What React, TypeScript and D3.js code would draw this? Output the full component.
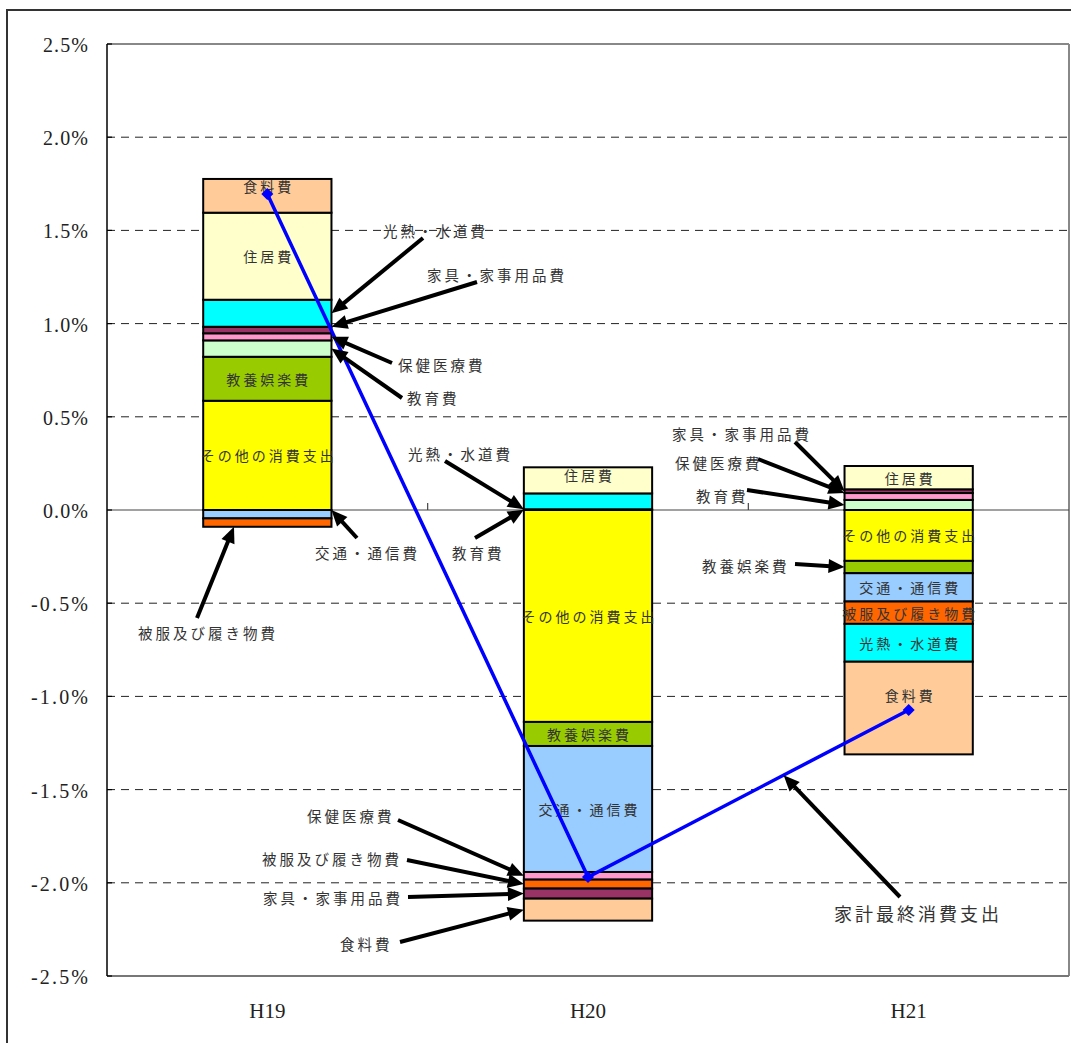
import React from 'react';
import * as d3 from 'd3';

// Contribution to household final consumption growth (percentage points) by item
const categories = ['H19', 'H20', 'H21'];
const seriesNames = [
  'その他の消費支出',
  '教養娯楽費',
  '教育費',
  '交通・通信費',
  '保健医療費',
  '被服及び履き物費',
  '家具・家事用品費',
  '光熱・水道費',
  '住居費',
  '食料費',
];
const otherSpending = [0.586, -1.137, -0.273];
const recreation = [0.236, -0.129, -0.066];
const education = [0.088, 0.004, 0.054];
const transport = [-0.045, -0.676, -0.152];
const medical = [0.038, -0.041, 0.037];
const clothing = [-0.045, -0.048, -0.12];
const furniture = [0.035, -0.054, 0.02];
const utilities = [0.145, 0.085, -0.203];
const housing = [0.467, 0.14, 0.125];
const food = [0.181, -0.118, -0.497];
const householdTotal = [1.695, -1.969, -1.073];
const totalLabel = '家計最終消費支出';
const yTicks = [2.5, 2.0, 1.5, 1.0, 0.5, 0.0, -0.5, -1.0, -1.5, -2.0, -2.5];

const seriesValues = [
  otherSpending, recreation, education, transport, medical,
  clothing, furniture, utilities, housing, food,
];
const seriesColors = [
  '#ffff00', '#99cc00', '#ccffcc', '#99ccff', '#ff99cc',
  '#ff6600', '#993366', '#00ffff', '#ffffcc', '#ffcc99',
];

// Segments that carry their name inside the bar (dy nudges the text)
const barLabels = [
  { cat: 'H19', key: '食料費', dy: -10 },
  { cat: 'H19', key: '住居費', dy: 0 },
  { cat: 'H19', key: '教養娯楽費', dy: 0 },
  { cat: 'H19', key: 'その他の消費支出', dy: 0 },
  { cat: 'H20', key: '住居費', dy: -5 },
  { cat: 'H20', key: 'その他の消費支出', dy: 0 },
  { cat: 'H20', key: '教養娯楽費', dy: 0 },
  { cat: 'H20', key: '交通・通信費', dy: 0 },
  { cat: 'H21', key: '住居費', dy: 0 },
  { cat: 'H21', key: 'その他の消費支出', dy: 0 },
  { cat: 'H21', key: '交通・通信費', dy: 0 },
  { cat: 'H21', key: '被服及び履き物費', dy: 0 },
  { cat: 'H21', key: '光熱・水道費', dy: 0 },
  { cat: 'H21', key: '食料費', dy: -13 },
];

// Callouts pointing at thin segments: tail point and text position
type Callout = {
  cat: string; key: string; edge: 'left' | 'right' | 'bottom'; at: 'top' | 'mid' | 'bottom';
  tail: [number, number]; tx: number; ty: number; bx?: number;
};
const callouts: Callout[] = [
  { cat: 'H19', key: '光熱・水道費', edge: 'right', at: 'mid', tail: [423, 238], tx: 383, ty: 230 },
  { cat: 'H19', key: '家具・家事用品費', edge: 'right', at: 'top', tail: [477, 282], tx: 427, ty: 274 },
  { cat: 'H19', key: '保健医療費', edge: 'right', at: 'mid', tail: [392, 363], tx: 398, ty: 364 },
  { cat: 'H19', key: '教育費', edge: 'right', at: 'mid', tail: [402, 398], tx: 407, ty: 397 },
  { cat: 'H19', key: '交通・通信費', edge: 'right', at: 'top', tail: [357, 538], tx: 315, ty: 552 },
  { cat: 'H19', key: '被服及び履き物費', edge: 'bottom', at: 'bottom', tail: [197, 618], tx: 138, ty: 632, bx: 0.24 },
  { cat: 'H20', key: '光熱・水道費', edge: 'left', at: 'bottom', tail: [445, 461], tx: 408, ty: 453 },
  { cat: 'H20', key: '教育費', edge: 'left', at: 'mid', tail: [475, 538], tx: 452, ty: 552 },
  { cat: 'H20', key: '保健医療費', edge: 'left', at: 'mid', tail: [398, 820], tx: 307, ty: 815 },
  { cat: 'H20', key: '被服及び履き物費', edge: 'left', at: 'mid', tail: [407, 860], tx: 262, ty: 858 },
  { cat: 'H20', key: '家具・家事用品費', edge: 'left', at: 'mid', tail: [408, 897], tx: 263, ty: 897 },
  { cat: 'H20', key: '食料費', edge: 'left', at: 'mid', tail: [400, 942], tx: 340, ty: 943 },
  { cat: 'H21', key: '家具・家事用品費', edge: 'left', at: 'mid', tail: [795, 442], tx: 672, ty: 433 },
  { cat: 'H21', key: '保健医療費', edge: 'left', at: 'top', tail: [758, 459], tx: 675, ty: 462 },
  { cat: 'H21', key: '教育費', edge: 'left', at: 'mid', tail: [747, 490], tx: 696, ty: 495 },
  { cat: 'H21', key: '教養娯楽費', edge: 'left', at: 'mid', tail: [795, 564], tx: 702, ty: 565 },
];

const W = 1071;
const H = 1043;
const plot = { left: 107, right: 1069, top: 44, bottom: 976 };
const jpFont = '"Noto Sans CJK JP", "Noto Sans", sans-serif';
const numFont = '"Liberation Serif", "DejaVu Serif", serif';

function Arrow({ from, to, width = 4 }: { from: [number, number]; to: [number, number]; width?: number }) {
  const [x1, y1] = from;
  const [x2, y2] = to;
  const dx = x2 - x1;
  const dy = y2 - y1;
  const len = Math.hypot(dx, dy);
  const ux = dx / len;
  const uy = dy / len;
  const headLen = 16;
  const headHalf = 7;
  const bx = x2 - ux * headLen;
  const by = y2 - uy * headLen;
  const px = -uy;
  const py = ux;
  return (
    <g>
      <line x1={x1} y1={y1} x2={bx + ux * 2} y2={by + uy * 2} stroke="#000" strokeWidth={width} />
      <polygon
        points={`${x2},${y2} ${bx + px * headHalf},${by + py * headHalf} ${bx - px * headHalf},${by - py * headHalf}`}
        fill="#000"
      />
    </g>
  );
}

export default function App() {
  const rows = categories.map((c, i) => {
    const r: Record<string, number | string> = { cat: c };
    seriesNames.forEach((s, k) => { r[s] = seriesValues[k][i]; });
    return r;
  });

  const stacked = d3.stack<Record<string, number | string>>()
    .keys(seriesNames)
    .value((d, k) => d[k] as number)
    .offset(d3.stackOffsetDiverging)(rows);

  const x = d3.scaleBand<string>().domain(categories).range([plot.left, plot.right]).padding(0);
  const y = d3.scaleLinear().domain([-2.5, 2.5]).range([plot.bottom, plot.top]);
  const bw = x.bandwidth() * 0.4;
  const barX = (c: string) => (x(c) as number) + (x.bandwidth() - bw) / 2;
  const cx = (c: string) => (x(c) as number) + x.bandwidth() / 2;

  const segment = (cat: string, key: string) => {
    const si = seriesNames.indexOf(key);
    const ci = categories.indexOf(cat);
    const d = stacked[si][ci];
    const yTop = y(Math.max(d[0], d[1]));
    const yBot = y(Math.min(d[0], d[1]));
    return { yTop, yBot, yMid: (yTop + yBot) / 2 };
  };

  const linePts: [number, number][] = categories.map((c, i) => [cx(c), y(householdTotal[i])]);
  const linePath = d3.line()(linePts) as string;

  // callout to the total line, between H20 and H21
  const t = 0.61;
  const totalTip: [number, number] = [
    linePts[1][0] + (linePts[2][0] - linePts[1][0]) * t,
    linePts[1][1] + (linePts[2][1] - linePts[1][1]) * t,
  ];

  return (
    <svg width={W} height={H} style={{ position: 'absolute', left: 0, top: 0, background: '#fff' }}>
      <rect x={0} y={0} width={W} height={H} fill="#fff" />
      {/* outer frame */}
      <rect x={7} y={10} width={W + 50} height={H + 50} fill="none" stroke="#333" strokeWidth={2} />

      {/* gridlines */}
      {yTicks.filter(v => v !== 0 && Math.abs(v) !== 2.5).map(v => (
        <line key={v} x1={plot.left} x2={plot.right} y1={y(v)} y2={y(v)}
          stroke="#222" strokeWidth={1} strokeDasharray="8,6" />
      ))}

      {/* plot border */}
      <line x1={plot.left} x2={plot.right} y1={plot.top} y2={plot.top} stroke="#888" strokeWidth={2} />
      <line x1={plot.right} x2={plot.right} y1={plot.top} y2={plot.bottom} stroke="#888" strokeWidth={2} />
      <line x1={plot.left} x2={plot.right} y1={plot.bottom} y2={plot.bottom} stroke="#777" strokeWidth={2} />

      {/* zero line with category ticks */}
      <line x1={plot.left} x2={plot.right} y1={y(0)} y2={y(0)} stroke="#444" strokeWidth={1.2} />
      {categories.slice(1).map(c => (
        <line key={c} x1={x(c)} x2={x(c)} y1={y(0) - 7} y2={y(0)} stroke="#444" strokeWidth={1.2} />
      ))}

      {/* y axis */}
      <line x1={plot.left} x2={plot.left} y1={plot.top} y2={plot.bottom} stroke="#000" strokeWidth={1.5} />
      {yTicks.map(v => {
        const label = v.toFixed(1) + '%';
        return (
          <g key={v}>
            <line x1={plot.left} x2={plot.left + 5} y1={y(v)} y2={y(v)} stroke="#000" strokeWidth={1.2} />
            <text x={88} y={y(v) + 8} textAnchor="end" fontFamily={numFont} fontSize={20} fill="#222"
              textLength={label.length * 12 - 3} lengthAdjust="spacing">{label}</text>
          </g>
        );
      })}

      {/* category labels */}
      {categories.map(c => (
        <text key={c} x={cx(c)} y={1018} textAnchor="middle" fontFamily={numFont} fontSize={21} fill="#222">{c}</text>
      ))}

      {/* stacked bars */}
      {stacked.map((s, si) => (
        <g key={s.key}>
          {s.map((d, ci) => {
            const y0 = y(Math.max(d[0], d[1]));
            const y1 = y(Math.min(d[0], d[1]));
            if (y1 - y0 < 0.01) return null;
            return (
              <rect key={ci} x={barX(categories[ci])} y={y0} width={bw} height={y1 - y0}
                fill={seriesColors[si]} stroke="#000" strokeWidth={2} />
            );
          })}
        </g>
      ))}

      {/* in-bar labels */}
      {barLabels.map((l, i) => {
        const seg = segment(l.cat, l.key);
        return (
          <text key={i} x={cx(l.cat) + 1.5} y={seg.yMid + l.dy} textAnchor="middle" dominantBaseline="central"
            fontFamily={jpFont} fontSize={14} letterSpacing={3} fill="#333">{l.key}</text>
        );
      })}

      {/* household final consumption line */}
      <path d={linePath} fill="none" stroke="#0000ff" strokeWidth={3.5} />
      {linePts.map(([px, py], i) => (
        <polygon key={i} points={`${px},${py - 6} ${px + 6},${py} ${px},${py + 6} ${px - 6},${py}`} fill="#0000ff" />
      ))}

      {/* callouts */}
      {callouts.map((c, i) => {
        const seg = segment(c.cat, c.key);
        const yy = c.at === 'top' ? seg.yTop : c.at === 'bottom' ? seg.yBot : seg.yMid;
        let tip: [number, number];
        if (c.edge === 'right') tip = [barX(c.cat) + bw, yy];
        else if (c.edge === 'left') tip = [barX(c.cat), yy];
        else tip = [barX(c.cat) + bw * (c.bx ?? 0.5), seg.yBot];
        return (
          <g key={i}>
            <Arrow from={c.tail} to={tip} />
            <text x={c.tx} y={c.ty} dominantBaseline="central" fontFamily={jpFont} fontSize={14.5}
              letterSpacing={3} fill="#333">{c.key}</text>
          </g>
        );
      })}
      <Arrow from={[900, 897]} to={totalTip} />
      <text x={834} y={913} dominantBaseline="central" fontFamily={jpFont} fontSize={18}
        letterSpacing={3} fill="#333">{totalLabel}</text>
    </svg>
  );
}
